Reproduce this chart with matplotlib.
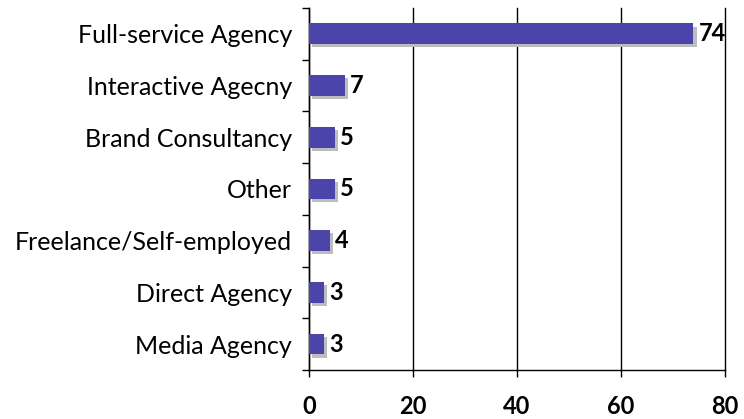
import numpy as np
import matplotlib.pyplot as plt
import matplotlib.patheffects as pe

categories = ["Full-service Agency", "Interactive Agecny", "Brand Consultancy",
              "Other", "Freelance/Self-employed", "Direct Agency", "Media Agency"]
values = [74, 7, 5, 5, 4, 3, 3]
xticks = [0, 20, 40, 60, 80]

plt.rcParams['font.family'] = ['Lato', 'DejaVu Sans']

fig = plt.figure(figsize=(7.44, 4.19), dpi=100)
ax = fig.add_axes([0.415, 0.117, 0.559, 0.864])

y = np.arange(len(categories))[::-1]
bars = ax.barh(y, values, height=0.4, color='#4a44ab', zorder=3)
for b in bars:
    b.set_path_effects([pe.SimplePatchShadow(offset=(2.2, -2.2), shadow_rgbFace='#bdbdbd', alpha=1),
                        pe.Normal()])

for yi, v in zip(y, values):
    ax.text(v + 1.0, yi, str(v), va='center', ha='left', fontsize=17, fontweight='bold')

ax.set_xlim(0, 80)
ax.set_ylim(-0.5, len(categories) - 0.5)
ax.set_xticks(xticks)
ax.set_xticklabels([str(t) for t in xticks], fontsize=17, fontweight='bold')
ax.set_yticks(y)
ax.set_yticklabels(categories, fontsize=18)
ax.set_yticks(np.arange(-0.5, len(categories), 1.0), minor=True)
ax.tick_params(axis='y', which='major', length=0, pad=12)
ax.tick_params(axis='y', which='minor', length=5, direction='out', width=1)
ax.tick_params(axis='x', length=5, direction='out', width=1, pad=13)

ax.grid(axis='x', color='black', linewidth=1, zorder=0)
for gl in ax.get_xgridlines():
    gl.set_clip_on(False)
for s in ['top', 'right']:
    ax.spines[s].set_visible(False)
ax.spines['left'].set_linewidth(1)
ax.spines['bottom'].set_linewidth(1)
ax.set_axisbelow(True)

fig.savefig('out.png', dpi=100)
